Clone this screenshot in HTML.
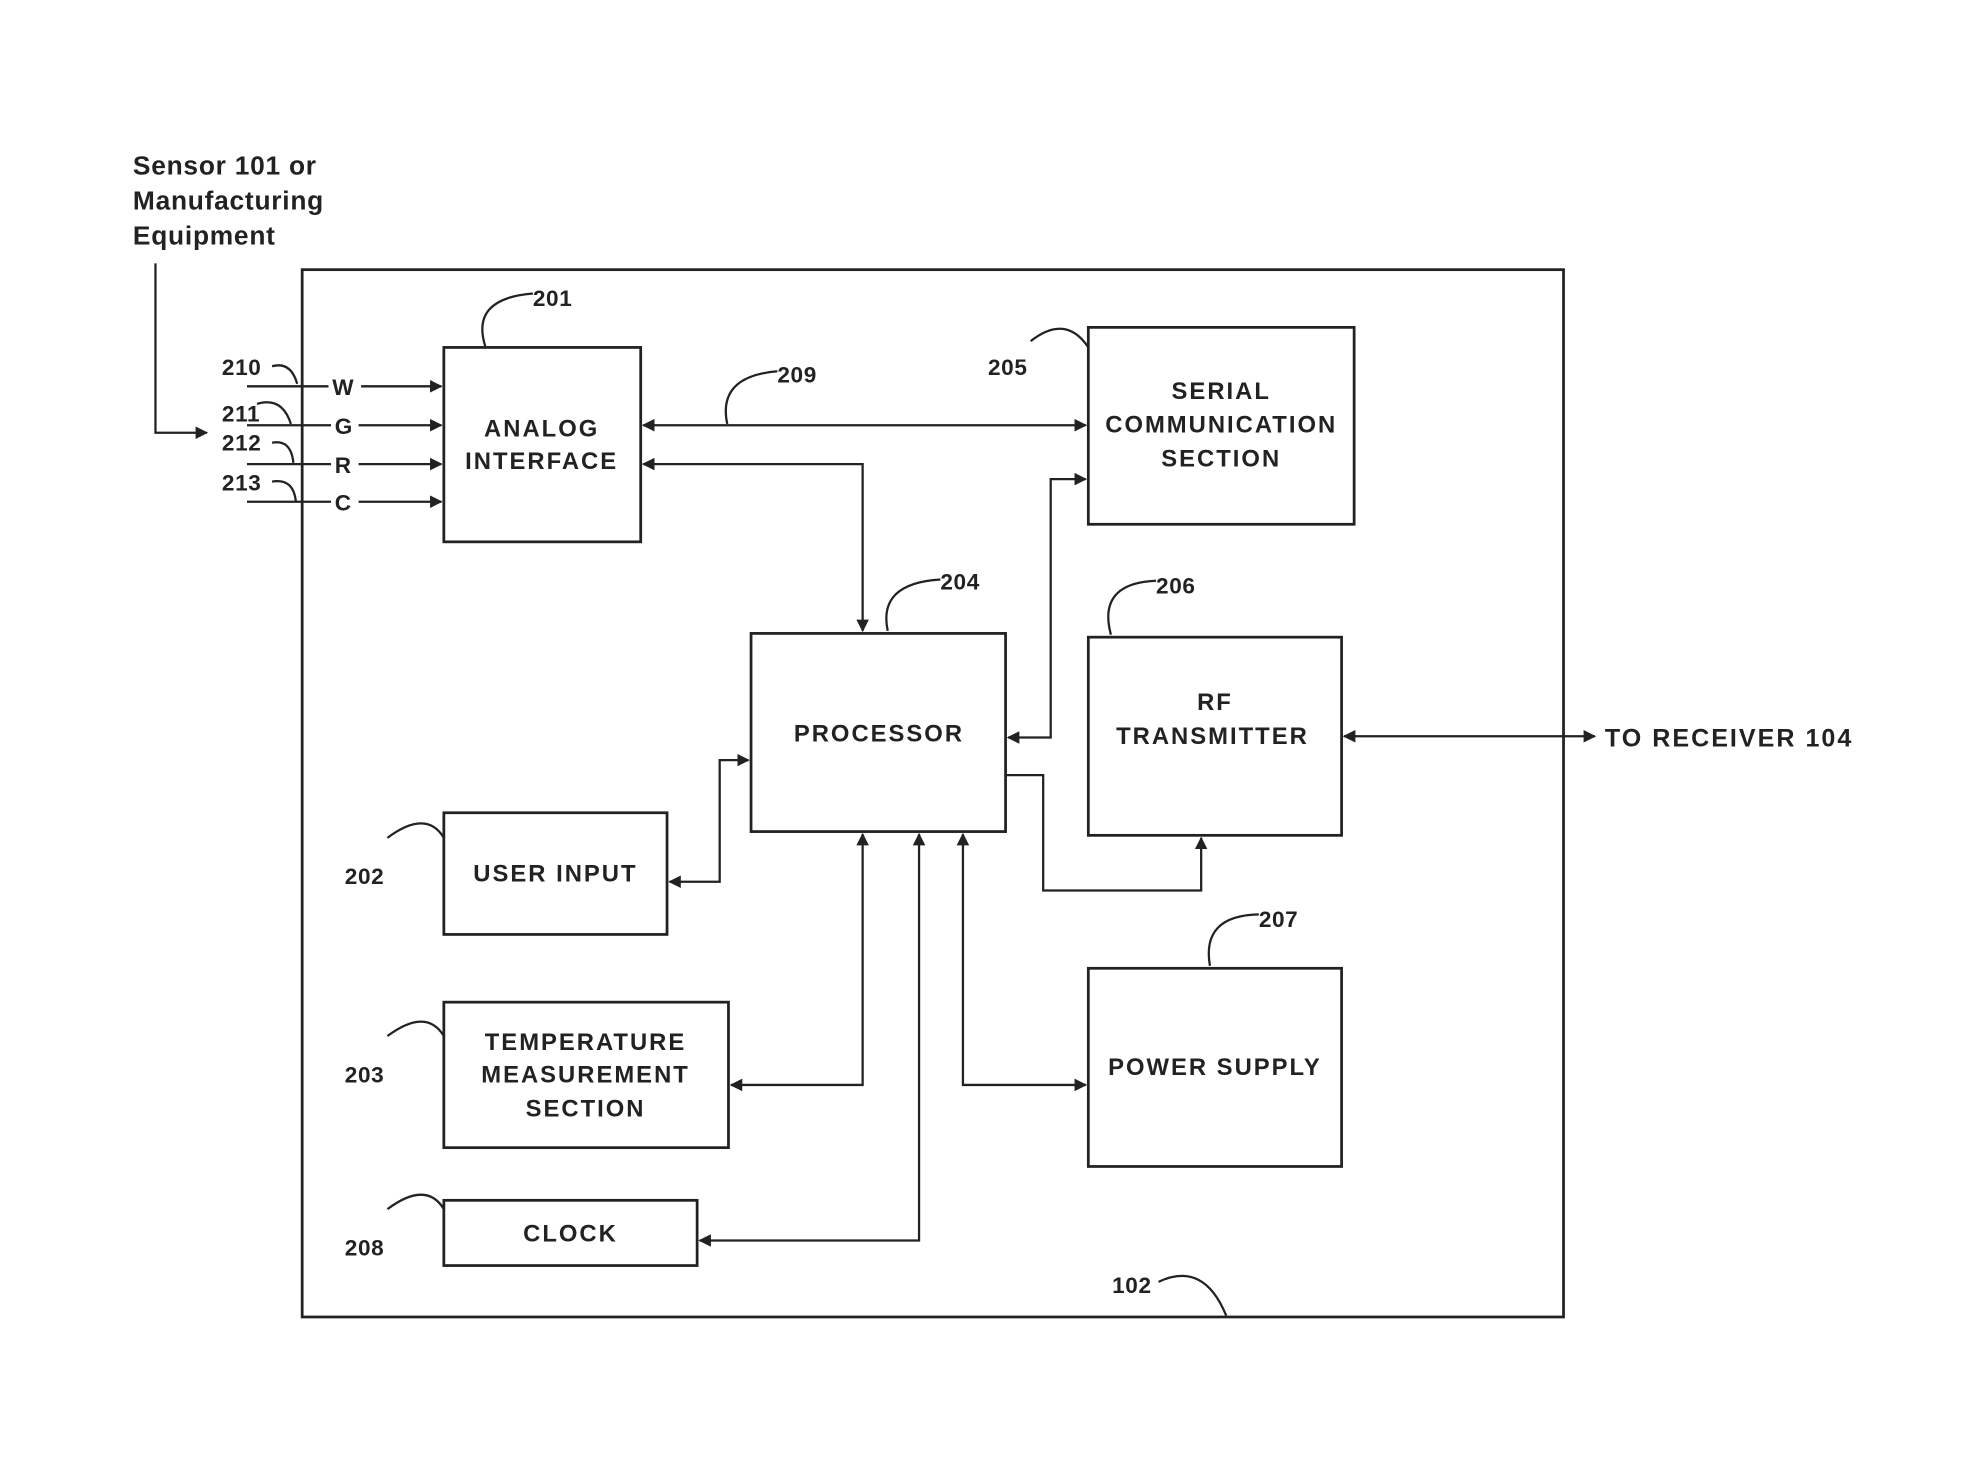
<!DOCTYPE html>
<html><head><meta charset="utf-8"><style>
html,body{margin:0;padding:0;background:#fff;}
svg{display:block}
.b{fill:none;stroke:#222;stroke-width:2.2}
.l{fill:none;stroke:#222;stroke-width:1.8}
text{font-family:"Liberation Sans",sans-serif;fill:#222}
.t{font-size:19px;font-weight:bold;text-anchor:middle;letter-spacing:1.6px}
.n{font-size:18px;font-weight:bold;letter-spacing:0.5px}
.h{font-size:21px;font-weight:bold;letter-spacing:0.6px}
</style></head><body>
<svg width="1966" height="1470" viewBox="0 0 1568 1172" preserveAspectRatio="none" xmlns="http://www.w3.org/2000/svg">
<defs><marker id="a" markerWidth="10" markerHeight="10" refX="9" refY="5" orient="auto-start-reverse" markerUnits="userSpaceOnUse"><path d="M0,0 L10,5 L0,10 z" fill="#222"/></marker></defs>
<text class="h" x="106" y="139">Sensor 101 or</text>
<text class="h" x="106" y="167">Manufacturing</text>
<text class="h" x="106" y="195">Equipment</text>
<path class="l" d="M124,210 V345 H165" marker-end="url(#a)"/>
<rect class="b" x="241" y="215" width="1006" height="835"/>
<rect class="b" x="354" y="277" width="157" height="155"/>
<text class="t" x="432" y="348">ANALOG</text><text class="t" x="432" y="374">INTERFACE</text>
<rect class="b" x="868" y="261" width="212" height="157"/>
<text class="t" x="974" y="318">SERIAL</text><text class="t" x="974" y="345">COMMUNICATION</text><text class="t" x="974" y="372">SECTION</text>
<rect class="b" x="599" y="505" width="203" height="158"/>
<text class="t" x="701" y="591">PROCESSOR</text>
<rect class="b" x="868" y="508" width="202" height="158"/>
<text class="t" x="969" y="566">RF</text><text class="t" x="967" y="593">TRANSMITTER</text>
<rect class="b" x="354" y="648" width="178" height="97"/>
<text class="t" x="443" y="703">USER INPUT</text>
<rect class="b" x="354" y="799" width="227" height="116"/>
<text class="t" x="467" y="837">TEMPERATURE</text><text class="t" x="467" y="863">MEASUREMENT</text><text class="t" x="467" y="890">SECTION</text>
<rect class="b" x="868" y="772" width="202" height="158"/>
<text class="t" x="969" y="857">POWER SUPPLY</text>
<rect class="b" x="354" y="957" width="202" height="52"/>
<text class="t" x="455" y="990">CLOCK</text>
<line class="l" x1="197" y1="308" x2="352" y2="308" marker-end="url(#a)"/>
<line class="l" x1="197" y1="339" x2="352" y2="339" marker-end="url(#a)"/>
<line class="l" x1="197" y1="370" x2="352" y2="370" marker-end="url(#a)"/>
<line class="l" x1="197" y1="400" x2="352" y2="400" marker-end="url(#a)"/>
<rect x="262" y="298" width="26" height="20" fill="#fff"/><text class="n" x="265" y="315">W</text>
<rect x="264" y="329" width="22" height="20" fill="#fff"/><text class="n" x="267" y="346">G</text>
<rect x="264" y="360" width="22" height="20" fill="#fff"/><text class="n" x="267" y="377">R</text>
<rect x="264" y="390" width="22" height="20" fill="#fff"/><text class="n" x="267" y="407">C</text>
<text class="n" x="177" y="299">210</text><path class="l" d="M217,292 Q232,288 237,306"/>
<text class="n" x="177" y="336">211</text><path class="l" d="M205,322 Q225,316 232,338"/>
<text class="n" x="177" y="359">212</text><path class="l" d="M217,353 Q232,350 234,369"/>
<text class="n" x="177" y="391">213</text><path class="l" d="M217,384 Q234,381 236,400"/>
<line class="l" x1="513" y1="339" x2="866" y2="339" marker-start="url(#a)" marker-end="url(#a)"/>
<path class="l" d="M513,370 H688 V503" marker-start="url(#a)" marker-end="url(#a)"/>
<path class="l" d="M580,338 Q572,300 620,296"/><text class="n" x="620" y="305">209</text>
<path class="l" d="M804,588 H838 V382 H866" marker-start="url(#a)" marker-end="url(#a)"/>
<path class="l" d="M802,618 H832 V710 H958 V668" marker-end="url(#a)"/>
<line class="l" x1="1072" y1="587" x2="1272" y2="587" marker-start="url(#a)" marker-end="url(#a)"/>
<text x="1280" y="595" style="font-size:20px;font-weight:bold;letter-spacing:1.6px">TO RECEIVER 104</text>
<path class="l" d="M534,703 H574 V606 H597" marker-start="url(#a)" marker-end="url(#a)"/>
<path class="l" d="M583,865 H688 V665" marker-start="url(#a)" marker-end="url(#a)"/>
<path class="l" d="M558,989 H733 V665" marker-start="url(#a)" marker-end="url(#a)"/>
<path class="l" d="M768,665 V865 H866" marker-start="url(#a)" marker-end="url(#a)"/>
<path class="l" d="M387,276 Q375,238 425,234"/><text class="n" x="425" y="244">201</text>
<path class="l" d="M708,503 Q700,465 750,462"/><text class="n" x="750" y="470">204</text>
<path class="l" d="M868,277 Q850,250 822,272"/><text class="n" x="788" y="299">205</text>
<path class="l" d="M886,506 Q875,465 922,463"/><text class="n" x="922" y="473">206</text>
<path class="l" d="M965,770 Q958,730 1004,729"/><text class="n" x="1004" y="739">207</text>
<path class="l" d="M354,668 Q340,645 309,668"/><text class="n" x="275" y="705">202</text>
<path class="l" d="M354,826 Q340,803 309,826"/><text class="n" x="275" y="863">203</text>
<path class="l" d="M354,964 Q340,941 309,964"/><text class="n" x="275" y="1001">208</text>
<path class="l" d="M924,1022 Q960,1005 978,1049"/><text class="n" x="887" y="1031">102</text>
</svg>
</body></html>
